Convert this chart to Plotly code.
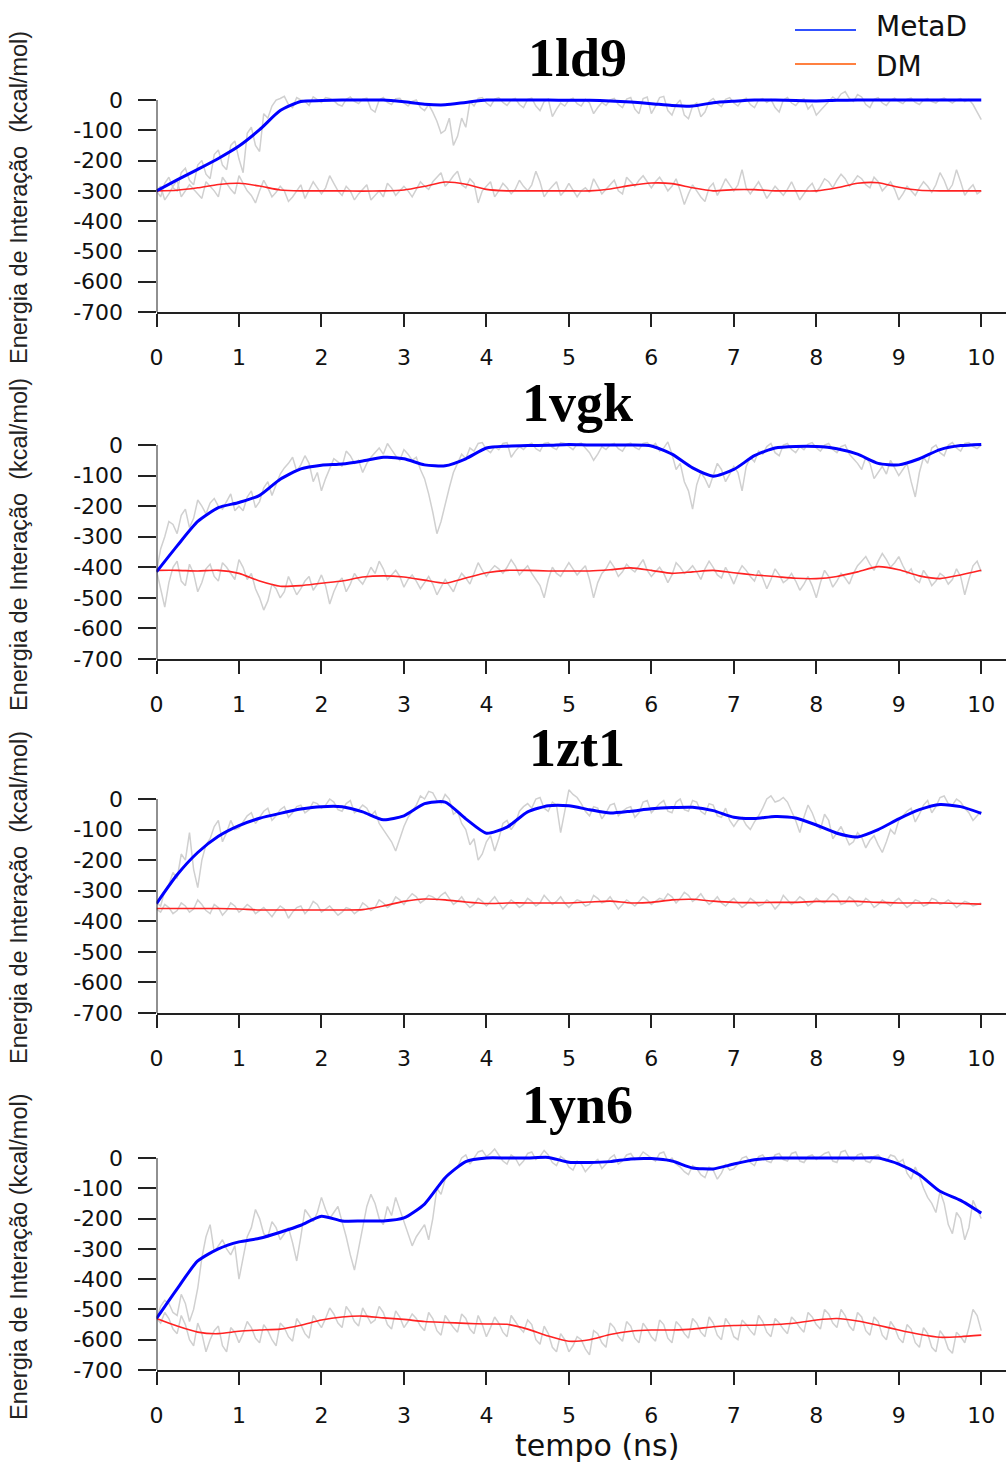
import plotly.graph_objects as go

W, H = 1006, 1463

# Sampling grids (ns): raw energies every 0.05 ns, smoothed curves every 0.25 ns
t_raw = [round(i * 0.05, 2) for i in range(201)]
t_smooth = [i * 0.25 for i in range(41)]

panel_names = ["1ld9", "1vgk", "1zt1", "1yn6"]

# ---------------- 1ld9 ----------------
ld9_metad_raw = (
    [-300, -320, -275, -255, -290, -300, -240, -225, -265, -280, -215, -200, -245, -260, -180, -165, -215, -230, -150, -135]
    + [-195, -240, -110, -90, -150, -170, -45, -60, -20, 0, 5, 12, -15, -25, 8, 0, -5, -18, 10, 2]
    + [-8, 8, 5, -2, -15, -20, 2, 10, -5, -12, 3, 6, -30, -40, 0, 8, -8, -15, 4, 6]
    + [-10, -20, -5, 0, -25, -35, -15, -40, -70, -110, -100, -60, -150, -120, -60, -90, -5, -20, 5, 8]
    + [-10, -20, 3, 8, -8, -18, 0, 5, -15, -25, 2, 6, -20, -35, -5, 3, -55, -30, -10, -20]
    + [0, 6, -12, -20, 2, -10, -45, -25, -8, -18, 0, 5, -15, -25, 3, 8, -30, -45, 5, 10]
    + [-45, -20, 8, 12, -35, -50, -15, 0, -50, -62, -20, -10, -55, -40, -5, 5, -12, -22, 2, 8]
    + [-10, -20, 0, 6, -15, -25, 0, 5, -8, 2, -25, -40, 0, 8, -10, -18, -2, 4, -30, -15]
    + [-50, -35, -20, -5, 10, 0, 20, 28, 5, -5, 18, 10, -15, -25, 2, 8, -10, -18, 0, 6]
    + [-5, -12, 3, 6, -8, -15, 0, 5, -5, -10, 2, 6, -3, -10, 0, 5, -5, 2, -15, -40]
    + [-65]
)
ld9_dm_raw = (
    [-300, -285, -330, -310, -285, -265, -320, -300, -280, -295, -310, -325, -270, -285, -300, -320, -255, -275, -295, -310]
    + [-250, -275, -300, -315, -340, -300, -265, -290, -320, -305, -285, -300, -335, -320, -300, -280, -325, -300, -270, -290]
    + [-310, -290, -250, -275, -300, -315, -285, -300, -330, -310, -295, -280, -330, -315, -300, -320, -275, -290, -315, -300]
    + [-285, -300, -320, -295, -270, -285, -295, -270, -255, -240, -285, -270, -250, -235, -280, -290, -260, -275, -340, -300]
    + [-285, -270, -320, -300, -275, -290, -310, -295, -265, -285, -300, -280, -235, -270, -320, -300, -285, -270, -315, -300]
    + [-275, -300, -320, -300, -290, -305, -260, -285, -310, -295, -280, -265, -300, -310, -255, -270, -285, -265, -250, -270]
    + [-290, -270, -255, -275, -300, -285, -260, -300, -345, -310, -280, -300, -320, -335, -290, -275, -315, -290, -260, -280]
    + [-300, -280, -230, -290, -310, -290, -270, -295, -325, -305, -285, -300, -315, -295, -270, -300, -330, -310, -290, -275]
    + [-305, -285, -260, -270, -290, -265, -245, -260, -285, -270, -250, -260, -280, -290, -255, -270, -300, -285, -270, -295]
    + [-330, -310, -285, -300, -315, -290, -270, -285, -305, -280, -240, -265, -300, -280, -230, -270, -315, -295, -280, -310]
    + [-300]
)
ld9_metad = [
    -300, -264, -229, -193, -152, -98, -35, -5, -2, 0,
    0, 0, -6, -14, -16, -8, 0, 0, 0, 0,
    -1, -1, -3, -7, -12, -18, -20, -9, -4, 0,
    0, -2, -3, -1, 0, 0, 0, 0, 0, 0,
    0]
ld9_dm = [
    -300, -298, -290, -279, -275, -284, -297, -300, -300, -300,
    -301, -300, -297, -285, -271, -278, -295, -300, -300, -300,
    -300, -300, -294, -282, -274, -276, -290, -300, -296, -296,
    -300, -300, -300, -290, -275, -273, -288, -298, -300, -300,
    -300]

# ---------------- 1vgk ----------------
vgk_metad_raw = (
    [-415, -340, -300, -250, -260, -290, -230, -210, -270, -240, -180, -200, -225, -190, -175, -200, -210, -185, -160, -215]
    + [-200, -215, -170, -150, -205, -185, -140, -120, -165, -130, -95, -75, -60, -40, -85, -65, -35, -60, -120, -90]
    + [-150, -110, -75, -45, -55, -70, -20, -35, -60, -50, -90, -60, -40, -25, -10, -30, 5, -15, -35, -50]
    + [-15, -30, -50, -40, -80, -110, -160, -220, -290, -250, -190, -140, -90, -60, -30, -45, -10, -20, 5, 8]
    + [-15, -25, -5, -15, 5, 8, -40, -20, -5, -15, 0, 6, -12, -20, 5, 8, -8, -15, 8, 5]
    + [-5, -15, 3, 6, -10, -25, -50, -30, -5, -15, 0, 5, -12, -20, 2, 6, -8, -15, 5, 8]
    + [-5, 5, -20, -10, 10, -30, -80, -60, -120, -150, -210, -130, -90, -110, -140, -100, -60, -80, -120, -95]
    + [-70, -90, -150, -70, -40, -55, -20, -30, -5, 5, -25, -35, 0, 5, -15, -25, -5, -15, 3, 8]
    + [-10, -20, 0, 5, -15, -25, -5, 0, -30, -45, -60, -80, -40, -60, -110, -90, -70, -95, -50, -75]
    + [-100, -80, -60, -120, -170, -90, -40, -60, -10, 0, -25, -35, 0, 8, -10, -20, 5, 8, -5, -12]
    + [0]
)
vgk_dm_raw = (
    [-410, -470, -530, -450, -400, -380, -445, -460, -390, -420, -480, -450, -405, -390, -430, -445, -385, -400, -420, -440]
    + [-375, -400, -440, -420, -470, -500, -540, -510, -455, -470, -500, -480, -430, -460, -490, -470, -445, -430, -475, -455]
    + [-425, -460, -520, -480, -450, -435, -480, -455, -420, -440, -455, -430, -400, -420, -380, -405, -440, -425, -410, -430]
    + [-465, -440, -425, -445, -470, -450, -430, -455, -490, -465, -440, -460, -480, -445, -420, -435, -455, -420, -385, -410]
    + [-430, -410, -395, -405, -420, -400, -375, -395, -425, -410, -395, -420, -440, -460, -500, -440, -400, -420, -430, -405]
    + [-385, -405, -425, -410, -395, -440, -500, -450, -420, -405, -380, -400, -430, -415, -390, -405, -415, -395, -375, -410]
    + [-430, -415, -400, -420, -450, -425, -385, -400, -420, -410, -395, -415, -440, -405, -380, -400, -425, -435, -400, -425]
    + [-455, -420, -395, -410, -430, -445, -410, -435, -470, -440, -405, -425, -450, -440, -420, -445, -475, -455, -430, -460]
    + [-500, -450, -410, -430, -465, -445, -420, -435, -455, -420, -395, -380, -365, -390, -410, -380, -355, -375, -400, -385]
    + [-365, -395, -420, -405, -440, -450, -410, -430, -460, -445, -420, -430, -455, -440, -405, -430, -490, -440, -395, -380]
    + [-415]
)
vgk_metad = [
    -415, -330, -250, -205, -188, -165, -112, -78, -66, -62,
    -52, -40, -45, -65, -68, -45, -10, -4, -2, -1,
    2, 0, 0, 0, -3, -30, -75, -102, -80, -35,
    -10, -5, -5, -12, -30, -60, -65, -45, -15, -2,
    2]
vgk_dm = [
    -410, -410, -412, -410, -420, -445, -462, -460, -452, -445,
    -432, -428, -432, -442, -452, -435, -418, -410, -410, -412,
    -412, -412, -408, -402, -410, -420, -415, -410, -418, -425,
    -430, -436, -437, -430, -415, -398, -408, -428, -437, -425,
    -410]

# ---------------- 1zt1 ----------------
zt1_metad_raw = (
    [-340, -350, -300, -280, -240, -260, -180, -200, -110, -230, -290, -200, -150, -130, -90, -70, -140, -110, -70, -100]
    + [-95, -75, -55, -45, -80, -60, -40, -30, -70, -55, -35, -25, -60, -45, -25, -20, -45, -35, -10, -15]
    + [-30, -20, 0, -10, -35, -40, -15, -5, -45, -35, -20, -30, -55, -40, -80, -100, -120, -140, -170, -130]
    + [-90, -60, -40, -20, 10, 0, 25, 20, -5, -15, 15, 0, -50, -40, -80, -100, -150, -130, -200, -180]
    + [-140, -120, -170, -130, -80, -70, -100, -80, -40, -25, -15, -30, 0, 5, -30, -40, -10, -20, -110, -40]
    + [30, 15, 5, -15, -40, -55, -25, -30, -65, -45, -20, -15, -55, -40, -30, -25, -60, -45, -10, -5]
    + [-45, -30, -15, -5, -40, -45, -10, 0, -35, -40, -5, -10, -40, -50, -15, -20, -55, -60, -30, -70]
    + [-90, -70, -60, -85, -100, -75, -55, -30, 0, 10, -10, -5, 5, -10, -40, -70, -110, -60, -20, -45]
    + [-80, -100, -50, -70, -130, -110, -90, -120, -150, -140, -110, -125, -160, -135, -120, -150, -175, -140, -100, -115]
    + [-70, -55, -40, -30, -75, -50, -20, -5, -45, -25, 5, 10, -15, -20, 0, -10, -30, -45, -70, -55]
    + [-40]
)
zt1_dm_raw = (
    [-360, -370, -345, -355, -375, -365, -340, -350, -370, -360, -330, -345, -365, -375, -345, -355, -380, -365, -340, -350]
    + [-370, -360, -345, -355, -375, -365, -355, -370, -385, -365, -350, -360, -390, -370, -355, -350, -375, -360, -335, -345]
    + [-370, -360, -350, -365, -380, -370, -355, -360, -375, -365, -340, -350, -365, -355, -330, -340, -355, -345, -320, -330]
    + [-345, -325, -310, -320, -340, -330, -315, -320, -330, -315, -305, -325, -345, -335, -320, -340, -355, -345, -325, -335]
    + [-350, -335, -320, -340, -360, -345, -330, -340, -355, -345, -325, -335, -350, -340, -315, -330, -345, -335, -320, -340]
    + [-355, -340, -330, -335, -350, -345, -315, -325, -340, -335, -320, -340, -360, -345, -330, -340, -350, -335, -320, -330]
    + [-345, -335, -325, -330, -310, -320, -340, -325, -305, -315, -335, -325, -310, -330, -345, -335, -320, -340, -350, -335]
    + [-325, -340, -355, -345, -325, -335, -350, -345, -330, -340, -360, -345, -315, -330, -345, -335, -320, -330, -350, -340]
    + [-325, -335, -340, -325, -310, -320, -345, -340, -320, -330, -350, -345, -325, -335, -355, -345, -330, -340, -350, -335]
    + [-325, -340, -355, -345, -330, -335, -350, -345, -325, -330, -345, -340, -330, -340, -355, -345, -335, -340, -350, -345]
    + [-340]
)
zt1_metad = [
    -342, -248, -175, -122, -87, -63, -47, -33, -25, -25,
    -42, -68, -55, -15, -10, -65, -112, -92, -42, -22,
    -22, -35, -46, -40, -32, -28, -27, -38, -60, -64,
    -57, -62, -85, -112, -124, -100, -65, -35, -18, -25,
    -47]
zt1_dm = [
    -358, -358, -358, -358, -360, -363, -363, -363, -363, -363,
    -362, -350, -335, -327, -330, -337, -342, -340, -340, -340,
    -340, -337, -334, -340, -338, -330, -328, -334, -338, -339,
    -338, -338, -335, -335, -335, -338, -340, -340, -340, -342,
    -344]

# ---------------- 1yn6 ----------------
yn6_metad_raw = (
    [-530, -490, -470, -480, -510, -520, -450, -480, -540, -500, -430, -330, -260, -220, -310, -290, -270, -300, -320, -290]
    + [-400, -330, -260, -230, -170, -200, -250, -260, -210, -230, -270, -250, -230, -280, -340, -260, -170, -190, -210, -180]
    + [-130, -170, -200, -180, -160, -210, -260, -320, -370, -300, -230, -160, -120, -150, -200, -220, -160, -190, -130, -170]
    + [-210, -250, -290, -260, -240, -220, -270, -200, -100, -120, -70, -50, -40, -30, 0, 10, -20, 0, 20, 25]
    + [5, 15, 30, 10, -10, -20, 10, 0, -25, -10, 15, 20, -5, 5, 25, 10, -15, -25, 5, -5]
    + [-30, -40, -10, -20, -45, -30, -15, -5, -35, -20, 0, 10, -20, -10, 10, 15, -5, 0, 20, 10]
    + [0, -10, 15, 20, -10, 0, -20, -30, -45, -55, -25, -35, -55, -65, -30, -40, -70, -50, -20, -40]
    + [-35, -20, 0, 5, -15, -25, 5, 10, -10, -15, 10, 15, -5, -10, 15, 20, -10, -15, 5, 10]
    + [-5, 5, 15, 20, -10, -15, 20, 25, 0, -10, 10, 15, -10, -15, 5, 10, -5, -10, 10, 5]
    + [-15, -5, -50, -70, -30, -60, -100, -130, -150, -180, -110, -150, -220, -250, -180, -200, -270, -230, -140, -170]
    + [-200]
)
yn6_dm_raw = (
    [-530, -545, -510, -530, -565, -580, -520, -550, -600, -620, -545, -580, -640, -600, -570, -555, -620, -640, -560, -575]
    + [-610, -580, -540, -560, -595, -610, -550, -570, -600, -620, -545, -560, -590, -605, -530, -550, -580, -595, -520, -540]
    + [-560, -530, -495, -515, -545, -560, -490, -510, -540, -555, -495, -520, -545, -535, -490, -510, -550, -565, -505, -525]
    + [-560, -540, -515, -530, -555, -570, -510, -530, -570, -585, -520, -540, -560, -575, -515, -530, -565, -580, -520, -550]
    + [-590, -560, -525, -545, -575, -590, -520, -540, -560, -575, -535, -550, -600, -615, -555, -580, -625, -640, -580, -600]
    + [-640, -620, -590, -600, -630, -650, -570, -580, -610, -625, -545, -560, -590, -605, -540, -555, -595, -610, -545, -565]
    + [-590, -605, -535, -550, -595, -610, -540, -555, -580, -595, -530, -545, -575, -590, -525, -545, -585, -600, -530, -550]
    + [-590, -600, -535, -550, -570, -585, -520, -540, -575, -590, -530, -545, -565, -580, -525, -540, -560, -575, -510, -525]
    + [-550, -565, -500, -515, -545, -560, -500, -520, -555, -570, -510, -525, -570, -585, -525, -540, -585, -600, -540, -560]
    + [-595, -610, -550, -565, -610, -625, -560, -580, -625, -640, -570, -590, -630, -645, -575, -590, -610, -560, -500, -520]
    + [-570]
)
yn6_metad = [
    -530, -432, -340, -300, -277, -265, -245, -222, -192, -208,
    -208, -208, -198, -152, -65, -12, 0, 0, 0, 2,
    -14, -15, -12, -3, -2, -10, -33, -36, -20, -6,
    0, 0, 0, 0, 0, 0, -20, -55, -110, -140,
    -182]
yn6_dm = [
    -530, -555, -575, -580, -572, -568, -565, -552, -535, -525,
    -522, -528, -533, -540, -543, -546, -548, -549, -565, -588,
    -605, -600, -583, -572, -568, -568, -565, -557, -553, -552,
    -550, -545, -535, -530, -538, -552, -568, -582, -592, -590,
    -585]

panels = [
    (ld9_metad_raw, ld9_dm_raw, ld9_metad, ld9_dm),
    (vgk_metad_raw, vgk_dm_raw, vgk_metad, vgk_dm),
    (zt1_metad_raw, zt1_dm_raw, zt1_metad, zt1_dm),
    (yn6_metad_raw, yn6_dm_raw, yn6_metad, yn6_dm),
]

y_ticks = [0, -100, -200, -300, -400, -500, -600, -700]
y_tick_text = ["0", "-100", "-200", "-300", "-400", "-500", "-600", "-700"]
x_ticks = list(range(11))

# Pixel rows of the 0 and -700 ticks in each panel
panel_rows = [(100, 312), (445, 659), (799, 1013), (1158, 1370)]
title_rows = [58, 403, 748, 1105]
ytitle_rows = [198, 545, 898, 1257]
x_left_px = 156.5
Y_TOP = 70  # headroom above 0 so raw traces above zero stay visible

GRAY = "#d0d0d0"
BLUE = "#0000ff"
RED = "#ff2222"
AXIS = "#222222"

fig = go.Figure()
layout = dict(
    width=W, height=H,
    margin=dict(l=0, r=0, t=0, b=0, autoexpand=False),
    paper_bgcolor="white", plot_bgcolor="white",
    showlegend=False,
)
shapes = []
annotations = []

def py(p):
    return 1 - p / H

for i, (mraw, draw, msm, dsm) in enumerate(panels):
    k = "" if i == 0 else str(i + 1)
    xa, ya = "x" + k, "y" + k
    r0, r700 = panel_rows[i]
    scale = (r700 - r0) / 700.0
    top_px = r0 - Y_TOP * scale

    for series in (mraw, draw):
        assert len(series) == len(t_raw)
        fig.add_trace(go.Scatter(x=t_raw, y=series, mode="lines", xaxis=xa, yaxis=ya,
                                 line=dict(color=GRAY, width=1.5), hoverinfo="skip"))
    assert len(msm) == len(t_smooth) and len(dsm) == len(t_smooth)
    fig.add_trace(go.Scatter(x=t_smooth, y=dsm, mode="lines", xaxis=xa, yaxis=ya,
                             line=dict(color=RED, width=1.6, shape="spline", smoothing=0.6)))
    fig.add_trace(go.Scatter(x=t_smooth, y=msm, mode="lines", xaxis=xa, yaxis=ya,
                             line=dict(color=BLUE, width=3, shape="spline", smoothing=0.6)))

    layout["xaxis" + k] = dict(
        domain=[x_left_px / W, 1.0], range=[0, 10.3], anchor=ya, automargin=False,
        tickvals=x_ticks, ticks="outside", ticklen=13, tickwidth=2, tickcolor=AXIS,
        showline=True, linecolor=AXIS, linewidth=2, showgrid=False, zeroline=False,
        tickfont=dict(family="DejaVu Sans", size=22, color="#111"),
        ticklabelstandoff=12,
    )
    layout["yaxis" + k] = dict(
        domain=[py(r700), py(top_px)], range=[-700, Y_TOP], anchor=xa, automargin=False,
        tickvals=y_ticks, ticktext=y_tick_text, ticks="outside", ticklen=18, tickwidth=2,
        tickcolor=AXIS, showline=False, showgrid=False, zeroline=False,
        tickfont=dict(family="DejaVu Sans", size=22, color="#111"),
        ticklabelstandoff=10,
    )
    # left axis line running only from -700 to 0
    shapes.append(dict(type="line", xref=xa, yref=ya, x0=0, x1=0, y0=-700, y1=0,
                       line=dict(color=AXIS, width=2)))

    annotations.append(dict(
        text="<b>%s</b>" % panel_names[i], xref="paper", yref="paper",
        x=577 / W, y=py(title_rows[i]), xanchor="center", yanchor="middle",
        showarrow=False, font=dict(family="Liberation Serif", size=54, color="black"),
    ))
    ytitle = "Energia de Interação\u00a0 (kcal/mol)" if i < 3 else "Energia de Interação (kcal/mol)"
    annotations.append(dict(
        text=ytitle, xref="paper", yref="paper", x=19 / W, y=py(ytitle_rows[i]),
        xanchor="center", yanchor="middle", textangle=-90, showarrow=False,
        font=dict(family="Liberation Sans", size=23.5, color="#222"),
    ))

# x-axis title
annotations.append(dict(
    text="tempo (ns)", xref="paper", yref="paper", x=597 / W, y=py(1445),
    xanchor="center", yanchor="middle", showarrow=False,
    font=dict(family="DejaVu Sans", size=30, color="#111"),
))

# legend drawn as lines with labels
legend_items = [("MetaD", "#3050ff", 30, 27), ("DM", "#ff8040", 64, 66)]
for label, color, line_row, text_row in legend_items:
    shapes.append(dict(type="line", xref="paper", yref="paper",
                       x0=795 / W, x1=856 / W, y0=py(line_row), y1=py(line_row),
                       line=dict(color=color, width=2)))
    annotations.append(dict(
        text=label, xref="paper", yref="paper", x=874 / W, y=py(text_row),
        xanchor="left", yanchor="middle", showarrow=False,
        font=dict(family="DejaVu Sans", size=28, color="#111"),
    ))

layout["shapes"] = shapes
layout["annotations"] = annotations
fig.update_layout(**layout)
fig.write_html("out.html")
